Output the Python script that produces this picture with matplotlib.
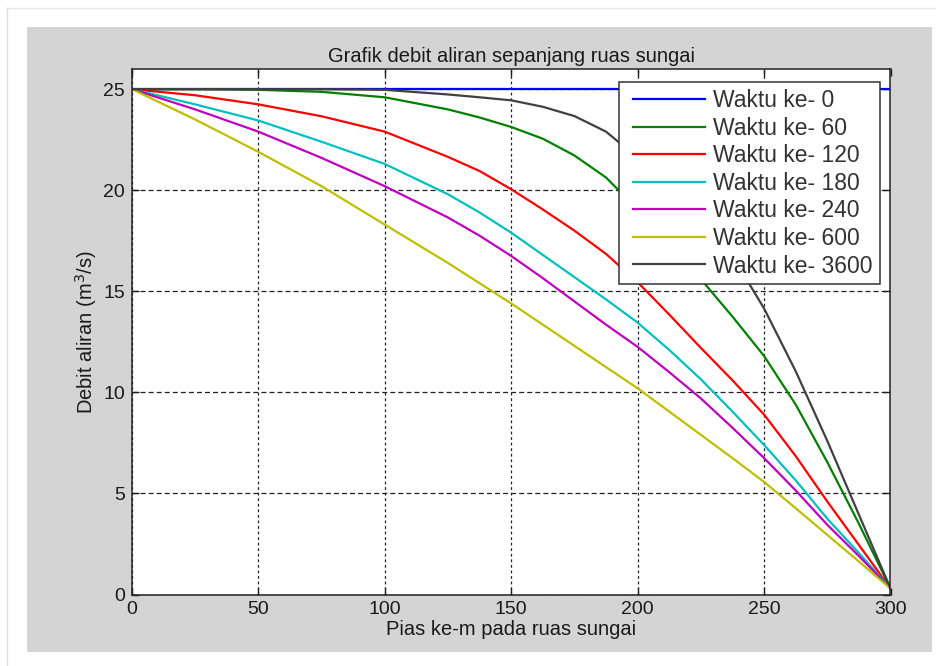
import matplotlib
matplotlib.use('Agg')
import matplotlib.pyplot as plt
from matplotlib.patches import Rectangle
from matplotlib.lines import Line2D
from matplotlib.legend_handler import HandlerLine2D

# values
pias = [0, 25, 50, 75, 100, 125, 137.5, 150, 162.5, 175, 187.5, 200,
        212.5, 225, 237.5, 250, 262.5, 275, 287.5, 300]

debit_t0 = [25] * len(pias)
debit_t60 = [25, 25, 24.97, 24.87, 24.6, 24.0, 23.6, 23.13, 22.55, 21.72, 20.63, 19.05,
             17.35, 15.6, 13.75, 11.8, 9.4, 6.55, 3.5, 0.3]
debit_t120 = [25, 24.7, 24.25, 23.66, 22.9, 21.65, 20.95, 20.05, 19.05, 18.0, 16.85, 15.45,
              13.85, 12.2, 10.6, 8.9, 6.85, 4.6, 2.45, 0.3]
debit_t180 = [25, 24.25, 23.45, 22.4, 21.3, 19.8, 18.9, 17.9, 16.8, 15.7, 14.6, 13.45,
              12.1, 10.65, 9.05, 7.4, 5.65, 3.75, 2.05, 0.3]
debit_t240 = [25, 24.0, 22.9, 21.6, 20.2, 18.65, 17.75, 16.75, 15.65, 14.5, 13.35, 12.25,
              11.0, 9.7, 8.25, 6.75, 5.15, 3.45, 1.9, 0.3]
debit_t600 = [25, 23.5, 21.9, 20.2, 18.3, 16.4, 15.4, 14.4, 13.35, 12.3, 11.25, 10.2,
              9.05, 7.9, 6.75, 5.57, 4.27, 2.95, 1.63, 0.3]
debit_t3600 = [25, 25, 25, 25, 24.97, 24.74, 24.6, 24.45, 24.13, 23.67, 22.9, 21.6,
               20.2, 18.6, 16.75, 14.15, 11.05, 7.6, 3.95, 0.3]

labels = ['Waktu ke- 0', 'Waktu ke- 60', 'Waktu ke- 120', 'Waktu ke- 180',
          'Waktu ke- 240', 'Waktu ke- 600', 'Waktu ke- 3600']
colors = ['#0000ff', '#008000', '#ff0000', '#00bfbf', '#bf00bf', '#bfbf00', '#404040']

x_ticks = [0, 50, 100, 150, 200, 250, 300]
y_ticks = [0, 5, 10, 15, 20, 25]

plt.rcParams['font.family'] = ['Liberation Sans', 'DejaVu Sans']
plt.rcParams['lines.scale_dashes'] = False

W, H = 937, 666
fig = plt.figure(figsize=(W / 100, H / 100), dpi=100, facecolor='white')

# screenshot frame + grey matlab figure area
fig.add_artist(Line2D([7 / W, 7 / W], [0, 1 - 8 / H], color='#dcdcdc', lw=1))
fig.add_artist(Line2D([7 / W, 1], [1 - 8 / H, 1 - 8 / H], color='#e6e6e6', lw=1))
fig.add_artist(Rectangle((27 / W, 14 / H), 905 / W, 625 / H, transform=fig.transFigure,
                         facecolor='#d4d4d4', edgecolor='none', zorder=0))

ax = fig.add_axes([132 / W, 1 - 594.5 / H, 758.5 / W, 525.5 / H])
ax.set_facecolor('white')

series = [debit_t0, debit_t60, debit_t120, debit_t180, debit_t240, debit_t600, debit_t3600]
for vals, lab, col in zip(series, labels, colors):
    ax.plot(pias, vals, color=col, lw=1.6, label=lab)

ax.set_xlim(0, 300)
ax.set_ylim(0, 26)
ax.set_xticks(x_ticks)
ax.set_yticks(y_ticks)
ax.tick_params(direction='in', length=5, width=1, top=True, right=True,
               labelsize=14, colors='#1a1a1a', pad=5)
for s in ax.spines.values():
    s.set_linewidth(1.1)
    s.set_color('#222222')

ax.xaxis.grid(True, color='#222222', lw=0.9, linestyle=(0, (2, 2)))
ax.yaxis.grid(True, color='#222222', lw=0.9, linestyle=(0, (3.6, 2.2)))
ax.set_axisbelow(True)

ax.set_title('Grafik debit aliran sepanjang ruas sungai', fontsize=14.5, color='#1a1a1a', pad=5)
ax.set_xlabel('Pias ke-m pada ruas sungai', fontsize=14.5, color='#1a1a1a', labelpad=1)
ax.set_ylabel('Debit aliran (m$^3$/s)', fontsize=14.5, color='#1a1a1a', labelpad=3)

leg = ax.legend(loc='upper right', bbox_to_anchor=(0.9855, 0.975), borderaxespad=0,
                fancybox=False, framealpha=1, edgecolor='#333333',
                prop={'family': 'Liberation Sans', 'size': 16.5},
                handler_map={Line2D: HandlerLine2D(xpad=0.3)},
                handlelength=3.45, handletextpad=0.35, borderpad=0.3, labelspacing=0.2)
leg.get_frame().set_linewidth(1.1)
for t in leg.get_texts():
    t.set_color('#333333')

fig.savefig('out.png', dpi=100, facecolor=fig.get_facecolor())
